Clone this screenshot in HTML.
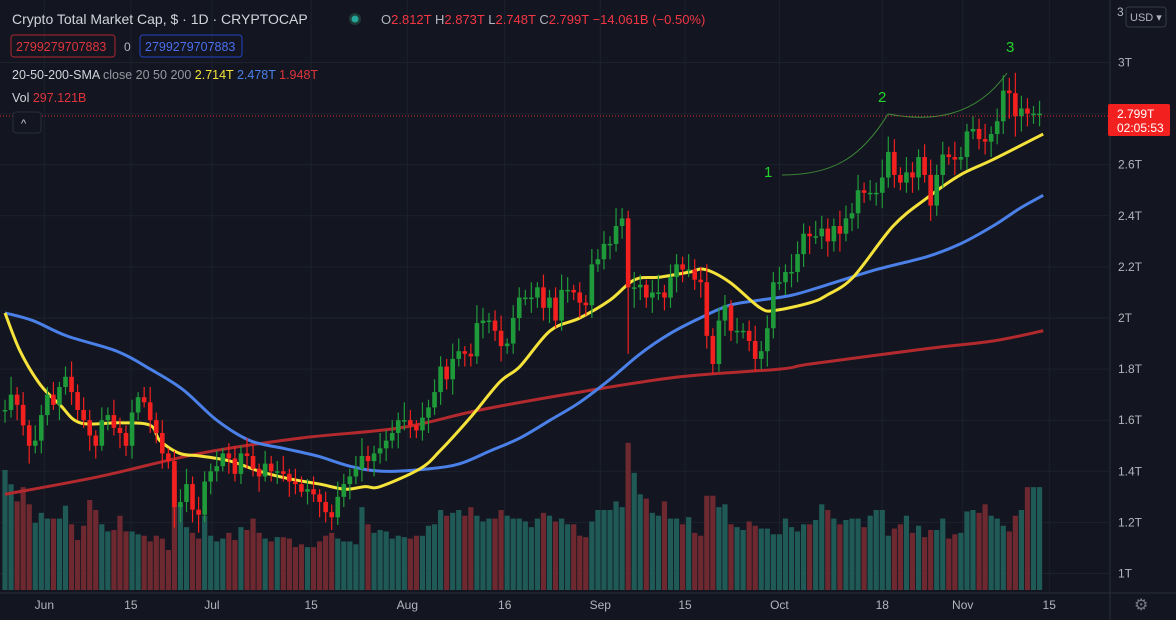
<!DOCTYPE html>
<html><head><meta charset="utf-8"><style>
html,body{margin:0;padding:0;background:#131620;overflow:hidden}
svg{display:block;font-family:"Liberation Sans",sans-serif}
</style></head><body>
<svg id="chart" width="1176" height="620" viewBox="0 0 1176 620" xmlns="http://www.w3.org/2000/svg">
<rect width="1176" height="620" fill="#131620"/>
<g id="grid"></g>
<g id="vol"></g>
<g id="smas"></g>
<g id="candles"></g>
<g fill="none" stroke="#3f8a3a" stroke-width="1">
<path d="M782 175 C830 175 860 160 888 114"/>
<path d="M888 114 C930 122 975 118 1007 73"/>
</g>
<text x="764" y="177" fill="#22d42a" font-size="15">1</text>
<text x="878" y="102" fill="#22d42a" font-size="15">2</text>
<text x="1006" y="52" fill="#22d42a" font-size="15">3</text>
<line x1="0" y1="116" x2="1110" y2="116" stroke="#d3262a" stroke-dasharray="1,2"/>
<rect x="1110" y="0" width="66" height="620" fill="#131620"/>
<line x1="1110" y1="0" x2="1110" y2="620" stroke="#2a2e39"/>
<line x1="0" y1="593" x2="1176" y2="593" stroke="#2a2e39"/>
<g id="yaxis"></g>
<g id="xaxis"></g>
<rect x="1108" y="104" width="62" height="32" rx="2" fill="#f2201f"/>
<text x="1117" y="118" fill="#fff" font-size="12">2.799T</text>
<text x="1117" y="132" fill="#fff" font-size="12">02:05:53</text>
<text x="1117" y="16" fill="#b2b5be" font-size="12">3</text>
<rect x="1126" y="7" width="40" height="20" rx="3" fill="#131620" stroke="#363a45"/>
<text x="1130" y="21" fill="#b2b5be" font-size="11">USD ▾</text>
<text x="1134" y="610" fill="#787b86" font-size="16">⚙</text>
<text x="12" y="24" fill="#d1d4dc" font-size="14">Crypto Total Market Cap, $ · 1D · CRYPTOCAP</text>
<circle cx="355" cy="19" r="6" fill="#1e3b36"/>
<circle cx="355" cy="19" r="3.5" fill="#26a69a"/>
<text x="381" y="24" font-size="13"><tspan fill="#b2b5be">O</tspan><tspan fill="#f23645">2.812T </tspan><tspan fill="#b2b5be"> H</tspan><tspan fill="#f23645">2.873T </tspan><tspan fill="#b2b5be"> L</tspan><tspan fill="#f23645">2.748T </tspan><tspan fill="#b2b5be"> C</tspan><tspan fill="#f23645">2.799T −14.061B (−0.50%)</tspan></text>
<rect x="11" y="35" width="104" height="22" rx="3" fill="none" stroke="#b0262e"/>
<text x="16" y="51" fill="#e0343c" font-size="12.5">2799279707883</text>
<text x="124" y="51" fill="#b2b5be" font-size="12">0</text>
<rect x="140" y="35" width="102" height="22" rx="3" fill="none" stroke="#2643c4"/>
<text x="145" y="51" fill="#4a6ff0" font-size="12.5">2799279707883</text>
<text x="12" y="79" font-size="12.5"><tspan fill="#d1d4dc">20-50-200-SMA </tspan><tspan fill="#9598a1">close 20 50 200 </tspan><tspan fill="#f5e33b"> 2.714T </tspan><tspan fill="#4a80e8"> 2.478T </tspan><tspan fill="#e0343c"> 1.948T</tspan></text>
<text x="12" y="102" font-size="12.5"><tspan fill="#d1d4dc">Vol </tspan><tspan fill="#e0343c"> 297.121B</tspan></text>
<rect x="13" y="112" width="28" height="21" rx="3" fill="#131620" stroke="#2a2e39"/>
<text x="21" y="127" fill="#d1d4dc" font-size="11">^</text>
</svg>
<script>
const closes=[1.64,1.70,1.66,1.58,1.50,1.52,1.62,1.70,1.66,1.73,1.77,1.71,1.64,1.60,1.54,1.50,1.60,1.62,1.57,1.55,1.50,1.63,1.69,1.67,1.60,1.55,1.47,1.44,
1.26,1.28,1.35,1.25,1.23,1.36,1.40,1.42,1.47,1.45,1.39,1.47,1.46,1.41,1.38,1.43,1.40,1.40,1.39,1.36,1.35,1.32,1.33,1.31,1.28,1.24,1.22,1.30,1.35,1.38,1.41,1.46,1.44,1.47,
1.49,1.52,1.55,1.60,1.60,1.58,1.56,1.61,1.65,1.71,1.81,1.76,1.84,1.87,1.86,1.85,1.98,1.99,1.99,1.95,1.89,1.90,2.00,2.08,2.08,2.08,2.12,2.04,2.08,1.99,2.11,2.11,2.10,2.06,2.05,2.21,2.23,2.29,2.29,2.36,2.39,2.12,2.12,2.13,2.08,2.10,2.10,2.08,2.16,2.21,2.19,2.19,2.15,2.14,1.93,1.82,1.99,2.05,1.95,1.95,1.95,1.91,1.84,1.87,1.96,
2.14,2.14,2.18,2.18,2.25,2.33,2.32,2.32,2.35,2.30,2.36,2.33,2.39,2.41,2.50,2.49,2.49,2.49,2.55,2.65,2.56,2.53,2.57,2.55,2.63,2.56,2.44,2.56,2.64,2.63,2.62,2.63,2.73,2.74,2.70,2.69,2.72,2.77,2.89,2.88,2.79,2.82,2.80,2.80,2.80];
const wickUp=[0.04,0.07,0.03,0.05,0.02,0.06,0.04,0.03,0.05,0.02,0.04,0.06,0.03,0.05,0.04,0.02,0.05,0.03,0.06,0.04,0.03,0.05,0.02,0.04,0.06,0.03,0.05,0.02,
0.04,0.05,0.06,0.03,0.05,0.04,0.03,0.06,0.02,0.04,0.05,0.03,0.06,0.04,0.02,0.05,0.03,0.04,0.06,0.02,0.05,0.03,0.04,0.05,0.02,0.04,0.03,0.06,0.04,0.03,0.05,0.07,0.04,0.03,
0.06,0.04,0.05,0.03,0.07,0.04,0.02,0.06,0.03,0.05,0.04,0.03,0.06,0.05,0.02,0.04,0.07,0.05,0.03,0.04,0.06,0.02,0.05,0.04,0.03,0.06,0.02,0.05,0.03,0.04,0.06,0.05,0.02,0.04,0.03,0.06,0.04,0.05,0.03,0.07,0.04,0.03,0.06,0.04,0.02,0.05,0.07,0.03,0.05,0.04,0.03,0.06,0.04,0.05,0.07,0.03,0.05,0.04,0.02,0.05,0.03,0.04,0.06,0.04,0.05,
0.04,0.06,0.03,0.07,0.05,0.04,0.03,0.06,0.05,0.04,0.03,0.06,0.05,0.04,0.06,0.03,0.05,0.04,0.07,0.06,0.05,0.03,0.06,0.04,0.03,0.05,0.06,0.04,0.05,0.03,0.06,0.04,0.03,0.05,0.04,0.06,0.03,0.05,0.06,0.05,0.08,0.05,0.04,0.03,0.05];
const wickDn=[0.05,0.03,0.06,0.04,0.07,0.03,0.05,0.04,0.02,0.06,0.03,0.05,0.04,0.03,0.06,0.05,0.02,0.04,0.03,0.06,0.04,0.05,0.03,0.02,0.05,0.04,0.06,0.03,
0.08,0.06,0.04,0.05,0.07,0.03,0.05,0.04,0.02,0.06,0.03,0.04,0.05,0.03,0.06,0.02,0.04,0.05,0.03,0.06,0.04,0.02,0.05,0.03,0.06,0.04,0.05,0.03,0.04,0.06,0.03,0.05,0.04,0.06,
0.04,0.05,0.03,0.06,0.04,0.05,0.03,0.04,0.06,0.03,0.05,0.04,0.06,0.03,0.05,0.04,0.03,0.06,0.05,0.04,0.06,0.03,0.04,0.05,0.03,0.06,0.04,0.05,0.06,0.03,0.04,0.05,0.03,0.06,0.04,0.05,0.03,0.04,0.06,0.03,0.05,0.26,0.08,0.05,0.04,0.06,0.03,0.05,0.04,0.06,0.05,0.03,0.04,0.06,0.05,0.04,0.03,0.06,0.04,0.05,0.03,0.04,0.05,0.04,0.06,
0.04,0.03,0.05,0.06,0.04,0.05,0.07,0.03,0.05,0.06,0.04,0.07,0.03,0.05,0.06,0.04,0.03,0.05,0.06,0.04,0.05,0.03,0.04,0.06,0.05,0.03,0.06,0.04,0.05,0.03,0.06,0.04,0.05,0.03,0.04,0.05,0.06,0.04,0.05,0.10,0.08,0.06,0.05,0.04,0.05];
const volumes=[420,370,310,360,300,235,270,250,250,250,295,230,175,225,315,280,230,205,210,260,205,205,195,190,170,190,180,140,
420,300,220,200,180,260,190,170,180,200,175,220,210,250,200,180,170,185,185,180,150,160,150,150,170,190,200,180,170,170,160,290,230,200,
210,205,180,190,185,180,190,190,225,230,280,260,270,280,260,290,260,240,250,250,280,260,250,250,240,220,250,270,260,240,250,230,230,190,185,240,280,280,280,310,290,515,410,335,320,270,260,310,250,250,230,255,200,190,330,330,290,300,230,220,210,240,225,215,215,
195,195,250,220,205,230,230,245,300,280,250,230,245,250,250,220,260,280,280,190,215,230,260,200,225,185,210,210,250,180,195,200,275,280,270,300,260,250,225,205,260,280,360,360,360];
const sma20Day=[0,2.5,5.8,9.1,12.4,19,24,25.6,28.9,32.2,37.2,42.1,47.1,52,56.2,59.5,62,68.6,71.9,76.9,81.8,85.1,90.1,95,100,104.1,108.3,113.2,115.7,119.8,124.8,127.3,133.1,135.9,140.2,146.8,152.4,157.9,163.3,171.6];
const sma20=[2.02,1.87,1.74,1.66,1.59,1.59,1.58,1.52,1.47,1.46,1.44,1.40,1.37,1.35,1.33,1.34,1.34,1.41,1.48,1.61,1.75,1.81,1.95,2.00,2.07,2.15,2.16,2.18,2.19,2.14,2.04,2.03,2.06,2.09,2.16,2.36,2.47,2.56,2.62,2.72];
const sma50Day=[0,4.6,10.2,18.5,24,29.4,35,40.5,46,51.6,57,62.5,70.2,75.2,80.2,85.1,90.1,95,100,105,110,114.9,119.8,124.8,130.2,135.9,144.1,152.4,157.9,163.3,167.8,171.6];
const sma50=[2.02,1.99,1.93,1.87,1.80,1.72,1.60,1.52,1.49,1.46,1.42,1.40,1.41,1.43,1.48,1.53,1.60,1.67,1.76,1.86,1.94,2.00,2.05,2.07,2.09,2.13,2.19,2.24,2.29,2.36,2.43,2.48];
const sma200Day=[0,15.7,32.2,48.8,65.3,78.5,95,111.6,128.1,133.1,152.4,163.3,171.6];
const sma200=[1.31,1.38,1.47,1.53,1.57,1.64,1.71,1.77,1.80,1.82,1.88,1.91,1.95];
const yTicks=[3,2.6,2.4,2.2,2,1.8,1.6,1.4,1.2,1];
const yTickLabels=["3T","2.6T","2.4T","2.2T","2T","1.8T","1.6T","1.4T","1.2T","1T"];
const xTickDays=[6.5,20.8,34.2,50.6,66.5,82.6,98.4,112.4,128,145,158.3,172.6];
const xTickLabels=["Jun","15","Jul","15","Aug","16","Sep","15","Oct","18","Nov","15"];

const NS="http://www.w3.org/2000/svg";
const xOf=d=>5+d*6.05;
const yOf=p=>318-(p-2)*255.5;
const vBase=590, vH=v=>v/3.5;
function mk(tag,attrs,parent){const e=document.createElementNS(NS,tag);for(const k in attrs)e.setAttribute(k,attrs[k]);parent.appendChild(e);return e;}
const grid=document.getElementById('grid'),yax=document.getElementById('yaxis'),xax=document.getElementById('xaxis');
yTicks.forEach((t,i)=>{
  const l=mk('line',{x1:0,x2:1110,y1:yOf(t),y2:yOf(t),stroke:'#1d212c'},grid);
  
  
  const tx=mk('text',{x:1118,y:yOf(t)+4,fill:'#b2b5be','font-size':12},yax);
  tx.textContent=yTickLabels[i];
  
  
});
[yOf(2.8)].forEach(y=>{const l=mk('line',{x1:0,x2:1110,y1:y,y2:y,stroke:'#1d212c'},grid);
  
  });
xTickDays.forEach((d,i)=>{
  const x=xOf(d);
  const l=mk('line',{x1:x,x2:x,y1:0,y2:593,stroke:'#1d212c'},grid);
  
  
  const tx=mk('text',{x:x,y:609,fill:'#b2b5be','font-size':12,'text-anchor':'middle'},xax);
  tx.textContent=xTickLabels[i];
  
  
});
const volG=document.getElementById('vol'),cG=document.getElementById('candles');
closes.forEach((c,i)=>{
  const o=i>0?closes[i-1]:c;
  const up=c>=o;
  const x=xOf(i);
  const vv=volumes[i]??200;
  const v=mk('rect',{x:x-2.6,y:vBase-vH(vv),width:5.2,height:vH(vv),fill:up?'#1f5a57':'#6e2830'},volG);
  
  
  const col=up?'#1f9a3a':'#f2201f';
  const hi=Math.max(o,c)+(wickUp[i]??0.04),lo=Math.min(o,c)-(wickDn[i]??0.04);
  const w=mk('line',{x1:x,x2:x,y1:yOf(hi),y2:yOf(lo),stroke:col,'stroke-width':1.2},cG);
  
  
  const top=yOf(Math.max(o,c)),bh=Math.max(1.5,Math.abs(yOf(o)-yOf(c)));
  const b=mk('rect',{x:x-2.3,y:top,width:4.6,height:bh,fill:col},cG);
  
  
});
function smooth(days,vals){
  const p=days.map((d,i)=>[xOf(d),yOf(vals[i])]);
  let s=`M${p[0][0]},${p[0][1]}`;
  for(let i=0;i<p.length-1;i++){
    const p0=p[i-1]||p[i],p1=p[i],p2=p[i+1],p3=p[i+2]||p2;
    s+=` C${p1[0]+(p2[0]-p0[0])/6},${p1[1]+(p2[1]-p0[1])/6} ${p2[0]-(p3[0]-p1[0])/6},${p2[1]-(p3[1]-p1[1])/6} ${p2[0]},${p2[1]}`;
  }
  return s;
}
const sG=document.getElementById('smas');
const s200=mk('path',{d:smooth(sma200Day,sma200),fill:'none',stroke:'#b2292e','stroke-width':3},sG);


const s50=mk('path',{d:smooth(sma50Day,sma50),fill:'none',stroke:'#4a80e8','stroke-width':3},sG);


const s20=mk('path',{d:smooth(sma20Day,sma20),fill:'none',stroke:'#f5e33b','stroke-width':3},sG);


</script>
</body></html>
